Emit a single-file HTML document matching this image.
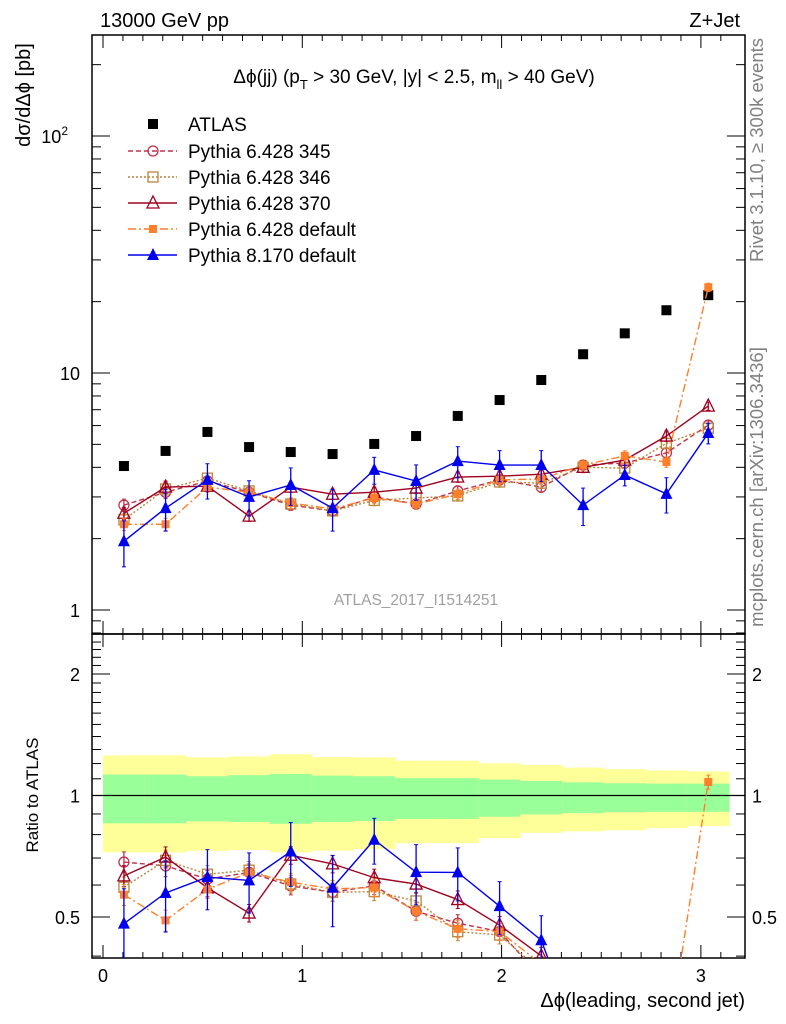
<!DOCTYPE html>
<html><head><meta charset="utf-8">
<style>
html,body{margin:0;padding:0;background:#fff;width:786px;height:1024px;overflow:hidden;}
svg{display:block;font-family:"Liberation Sans",sans-serif;}
</style></head>
<body>
<svg id="c" width="786" height="1024" viewBox="0 0 786 1024">
<defs>
<clipPath id="cm"><rect x="92" y="35" width="653" height="599"/></clipPath>
<clipPath id="cr"><rect x="92" y="634" width="653" height="324"/></clipPath>
</defs>
<g id="bands" clip-path="url(#cr)"></g>
<g id="axes"></g>
<g id="series"></g>
<text x="100" y="27" font-size="20">13000 GeV pp</text>
<text x="740" y="27" font-size="20" text-anchor="end">Z+Jet</text>
<text x="414" y="83" font-size="19" text-anchor="middle">Δϕ(jj) (p<tspan dy="6" font-size="13">T</tspan><tspan dy="-6"> &gt; 30 GeV, |y| &lt; 2.5, m</tspan><tspan dy="6" font-size="13">ll</tspan><tspan dy="-6"> &gt; 40 GeV)</tspan></text>
<text x="416" y="605" font-size="15.5" fill="#a0a0a0" text-anchor="middle">ATLAS_2017_I1514251</text>
<text transform="translate(763,150) rotate(-90)" font-size="18.5" fill="#808080" text-anchor="middle">Rivet 3.1.10, ≥ 300k events</text>
<text transform="translate(763,487) rotate(-90)" font-size="18.5" fill="#808080" text-anchor="middle">mcplots.cern.ch [arXiv:1306.3436]</text>
<text transform="translate(30,95) rotate(-90)" font-size="20" text-anchor="middle">dσ/dΔϕ [pb]</text>
<text transform="translate(38,795) rotate(-90)" font-size="17" text-anchor="middle">Ratio to ATLAS</text>
<text x="745" y="1007" font-size="20" text-anchor="end">Δϕ(leading, second jet)</text>
<g id="legend"></g>
</svg>
<script>
const centers=[0.105,0.314,0.524,0.733,0.942,1.152,1.361,1.571,1.780,1.990,2.199,2.409,2.618,2.827,3.037];
const atlas=[4.05,4.69,5.64,4.87,4.64,4.55,5.02,5.42,6.59,7.69,9.34,12.0,14.7,18.4,21.3];
const py345=[2.77,3.14,3.50,3.14,2.77,2.62,3.0,2.80,3.18,3.54,3.30,4.09,4.17,4.60,6.03];
const py346=[2.40,3.24,3.60,3.18,2.80,2.62,2.90,2.97,3.03,3.47,3.43,4.0,3.97,5.05,5.85];
const py370=[2.56,3.30,3.33,2.49,3.30,3.08,3.14,3.27,3.64,3.67,3.74,4.0,4.29,5.42,7.25];
const pydef=[2.30,2.30,3.30,3.14,2.83,2.67,2.97,2.80,3.08,3.54,3.57,4.09,4.47,4.21,23.0];
const py8=[1.95,2.69,3.54,3.0,3.37,2.69,3.90,3.50,4.25,4.09,4.09,2.77,3.71,3.09,5.58];
const py8err=[0.22,0.2,0.17,0.17,0.18,0.2,0.13,0.17,0.15,0.15,0.15,0.18,0.1,0.17,0.1];
const mcErr=[0.06,0.06,0.05,0.05,0.05,0.05,0.05,0.05,0.05,0.05,0.05,0.05,0.05,0.05,0.04];
const yelHi=[1.257,1.257,1.243,1.250,1.265,1.245,1.243,1.220,1.220,1.201,1.191,1.173,1.162,1.153,1.147];
const yelLo=[0.723,0.723,0.729,0.733,0.723,0.730,0.737,0.762,0.762,0.784,0.808,0.815,0.820,0.830,0.840];
const grnHi=[1.127,1.127,1.116,1.123,1.131,1.120,1.116,1.104,1.104,1.095,1.087,1.078,1.072,1.070,1.070];
const grnLo=[0.853,0.853,0.863,0.860,0.851,0.860,0.865,0.875,0.875,0.886,0.898,0.904,0.909,0.911,0.911];
const xTicks=[0,1,2,3];
const ratioTicks=[0.5,1,2];

const NS="http://www.w3.org/2000/svg";
const X=v=>103+199.3*v;
const Y=v=>610-237*Math.log10(v);
const YR=r=>795.5-121.5*Math.log2(r);
const binW=Math.PI/15;
function mk(tag,attrs,parent){const e=document.createElementNS(NS,tag);for(const k in attrs)e.setAttribute(k,attrs[k]);parent.appendChild(e);return e;}
const axes=document.getElementById('axes'),bands=document.getElementById('bands'),ser=document.getElementById('series'),leg=document.getElementById('legend');

for(let i=0;i<centers.length;i++){
  const x0=X(i*binW),x1=X((i+1)*binW);
  const r1=mk('rect',{x:x0,y:YR(yelHi[i]),width:x1-x0+0.5,height:YR(yelLo[i])-YR(yelHi[i]),fill:'#ffff99'},bands);
  
  
  const r2=mk('rect',{x:x0,y:YR(grnHi[i]),width:x1-x0+0.5,height:YR(grnLo[i])-YR(grnHi[i]),fill:'#99ff99'},bands);
  
  
}
const ul=mk('line',{x1:92,x2:745,y1:YR(1),y2:YR(1),stroke:'#000','stroke-width':1.3},bands);



const f1=mk('rect',{x:92,y:35,width:653,height:599,fill:'none',stroke:'#000','stroke-width':1.5},axes);


const f2=mk('rect',{x:92,y:634,width:653,height:324,fill:'none',stroke:'#000','stroke-width':1.5},axes);


for(let k=0;k<=31;k++){
  const v=k/10,x=X(v),big=(k%10===0),L=big?13:6;
  for(const [yt,yb] of [[35,634],[634,958]]){
    mk('line',{x1:x,x2:x,y1:yt,y2:yt+L,stroke:'#000'},axes);
    mk('line',{x1:x,x2:x,y1:yb,y2:yb-L,stroke:'#000'},axes);
  }
}
xTicks.forEach(v=>{const t=mk('text',{x:X(v),y:982,'font-size':18,'text-anchor':'middle'},axes);t.textContent=v;

});
for(let d=-1;d<=2;d++)for(let m=1;m<=9;m++){
  const v=m*Math.pow(10,d),y=Y(v);if(y<35||y>634)continue;
  const L=m===1?18:9;
  mk('line',{x1:92,x2:92+L,y1:y,y2:y,stroke:'#000'},axes);
  mk('line',{x1:745,x2:745-L,y1:y,y2:y,stroke:'#000'},axes);
}
[[1,'1'],[10,'10'],[100,'10']].forEach(([v,s],i)=>{const t=mk('text',{x:i===2?68:80,y:Y(v)+7,'font-size':18,'text-anchor':'end'},axes);t.textContent=s;
if(i===2){const sp=mk('tspan',{dy:-8,'font-size':12},t);sp.textContent='2';}

});
for(let r=0.4;r<=2.5;r+=0.1){
  const rr=Math.round(r*10)/10,y=YR(rr);if(y<634||y>958)continue;
  const major=ratioTicks.includes(rr),L=major?18:9;
  mk('line',{x1:92,x2:92+L,y1:y,y2:y,stroke:'#000'},axes);
  mk('line',{x1:745,x2:745-L,y1:y,y2:y,stroke:'#000'},axes);
}
ratioTicks.forEach(r=>{
  const t=mk('text',{x:80,y:YR(r)+7,'font-size':18,'text-anchor':'end'},axes);t.textContent=r;
  
  
  const t2=mk('text',{x:752,y:YR(r)+7,'font-size':18},axes);t2.textContent=r;
  
  
});

function marker(g,type,x,y,color){
  const s=5;
  if(type==='sqfill')mk('rect',{x:x-s,y:y-s,width:2*s,height:2*s,fill:color},g);
  if(type==='sqfillsm')mk('rect',{x:x-4,y:y-4,width:8,height:8,fill:color},g);
  if(type==='circ')mk('circle',{cx:x,cy:y,r:s,fill:'none',stroke:color,'stroke-width':1.3},g);
  if(type==='sq')mk('rect',{x:x-s,y:y-s,width:2*s,height:2*s,fill:'none',stroke:color,'stroke-width':1.3},g);
  if(type==='tri')mk('polygon',{points:`${x},${y-7} ${x-6},${y+5} ${x+6},${y+5}`,fill:'none',stroke:color,'stroke-width':1.3},g);
  if(type==='trifill')mk('polygon',{points:`${x},${y-7} ${x-6},${y+5} ${x+6},${y+5}`,fill:color},g);
}
const defs=[
 {name:'pythia-6428-345',label:'Pythia 6.428 345',vals:py345,err:mcErr,color:'#c0304a',dash:'5,3',m:'circ'},
 {name:'pythia-6428-346',label:'Pythia 6.428 346',vals:py346,err:mcErr,color:'#b8863b',dash:'2,2',m:'sq'},
 {name:'pythia-6428-370',label:'Pythia 6.428 370',vals:py370,err:mcErr,color:'#a00020',dash:'',m:'tri'},
 {name:'pythia-6428-default',label:'Pythia 6.428 default',vals:pydef,err:mcErr,color:'#ff7f2a',dash:'8,3,2,3',m:'sqfillsm'},
 {name:'pythia-8170-default',label:'Pythia 8.170 default',vals:py8,err:py8err,color:'#0000ee',dash:'',m:'trifill'}
];
const ga=mk('g',{'clip-path':'url(#cm)'},ser);


atlas.forEach((v,i)=>marker(ga,'sqfill',X(centers[i]),Y(v),'#000'));

defs.forEach(d=>{
  for(const [clip,fy,valf] of [['cm',Y,(v,i)=>v],['cr',YR,(v,i)=>v/atlas[i]]]){
    const g=mk('g',{'clip-path':`url(#${clip})`},ser);
    
    
    const pts=d.vals.map((v,i)=>X(centers[i])+','+fy(valf(v,i))).join(' ');
    mk('polyline',{points:pts,fill:'none',stroke:d.color,'stroke-width':1.4,'stroke-dasharray':d.dash},g);
    d.vals.forEach((v,i)=>{
      const x=X(centers[i]),val=valf(v,i);
      const y1=fy(val*(1+d.err[i])),y2=fy(val*(1-d.err[i]));
      mk('line',{x1:x,x2:x,y1:y1,y2:y2,stroke:d.color,'stroke-width':1.3},g);
      mk('line',{x1:x-2,x2:x+2,y1:y1,y2:y1,stroke:d.color},g);
      mk('line',{x1:x-2,x2:x+2,y1:y2,y2:y2,stroke:d.color},g);
      marker(g,d.m,x,fy(val),d.color);
    });
  }
});

const la=mk('g',{},leg);


marker(la,'sqfill',153,124,'#000');
const lt=mk('text',{x:188,y:131,'font-size':19},la);lt.textContent='ATLAS';
defs.forEach((d,k)=>{
  const y=151+k*26;
  const g=mk('g',{},leg);
  
  
  mk('line',{x1:128,x2:177,y1:y,y2:y,stroke:d.color,'stroke-width':1.4,'stroke-dasharray':d.dash},g);
  marker(g,d.m,153,y,d.color);
  const t=mk('text',{x:188,y:y+7,'font-size':19},g);t.textContent=d.label;
});
</script>
</body></html>
